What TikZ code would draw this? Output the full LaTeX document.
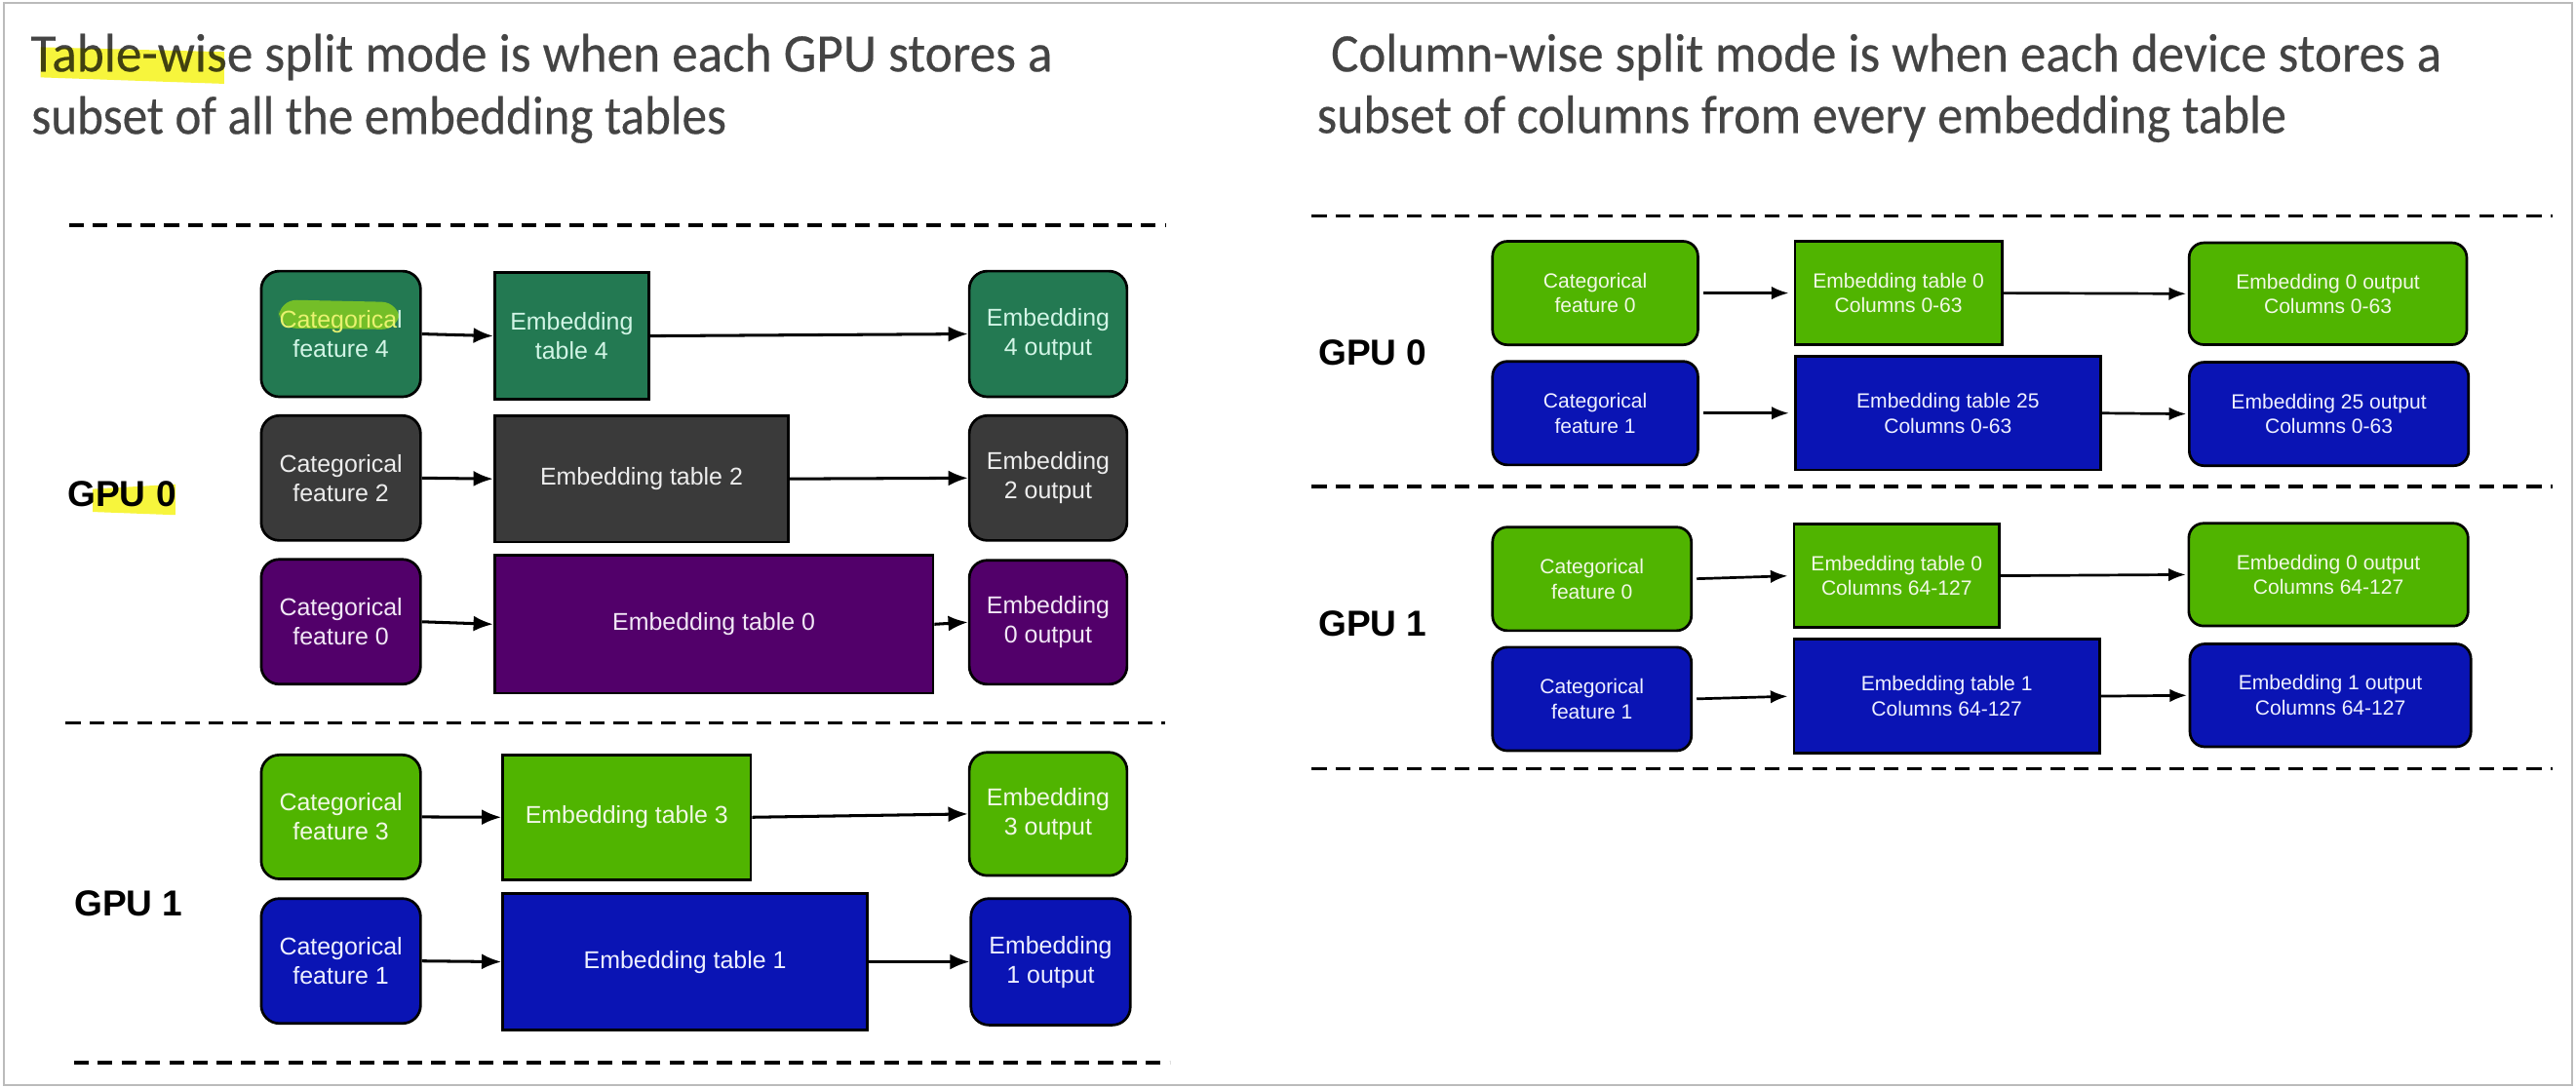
\documentclass[tikz,border=0pt]{standalone}
\usepackage{fontspec}
\setmainfont{Liberation Sans}
\newfontfamily\titlefont[FakeBold=0.35]{Carlito}
\usetikzlibrary{arrows.meta}
\definecolor{dkgreen}{HTML}{237952}
\definecolor{mint}{HTML}{D2F5E6}
\definecolor{dkgray}{HTML}{3A3A3A}
\definecolor{ltgray}{HTML}{EDEDED}
\definecolor{purp}{HTML}{52006A}
\definecolor{purptext}{HTML}{F2E8F6}
\definecolor{brgreen}{HTML}{50B400}
\definecolor{greentext}{HTML}{F2F8E6}
\definecolor{blu}{HTML}{0A14B4}
\definecolor{blutext}{HTML}{EEF0FF}
\definecolor{titlegray}{HTML}{444444}
\definecolor{hly}{HTML}{F7F53C}
\definecolor{hlgreen}{HTML}{74BE28}
\definecolor{hltext}{HTML}{E8F270}
\definecolor{framec}{HTML}{BBBBBB}
\tikzset{
  sz/.style 2 args={minimum width=#1pt, minimum height=#2pt},
  box/.style={draw=black, line width=1.6pt, inner sep=0pt, align=center,
    font=\fontsize{14.8}{17.8}\selectfont},
  tbox/.style={box},
  rbox/.style={box, rounded corners=11pt},
  rsmall/.style={font=\fontsize{12.5}{15.2}\selectfont},
  rtbox/.style={box, rsmall},
  rrbox/.style={box, rsmall, rounded corners=9pt},
  cgreen/.style={fill=dkgreen, text=mint},
  cgray/.style={fill=dkgray, text=ltgray},
  cpurp/.style={fill=purp, text=purptext},
  cbright/.style={fill=brgreen, text=greentext},
  cblue/.style={fill=blu, text=blutext},
  arr/.style={-{Latex[length=12pt,width=9.5pt]}, line width=1.8pt, black},
  rarr/.style={-{Latex[length=10.5pt,width=8pt]}, line width=1.6pt, black},
  sep/.style={line width=2.2pt, black, dash pattern=on 9pt off 5.5pt},
  titletext/.style={inner sep=0pt, anchor=base west, text=titlegray,
    font=\titlefont\fontsize{33}{38}\selectfont},
  gpu/.style={inner sep=0pt, anchor=base west, text=black,
    font=\bfseries\fontsize{22}{26}\selectfont}
}
\begin{document}
\begin{tikzpicture}[x=1pt,y=-1pt]
\useasboundingbox (0,0) rectangle (1568,662.3);
\fill[white] (0,0) rectangle (1568,662.3);
\draw[framec, line width=1.2pt] (2.5,1.7) rectangle (1565.5,660.8);

% ---------- titles ----------
\node[titletext] (tl1) at (18.5,43.5) {\resizebox{622pt}{\height}{Table-wise split mode is when each GPU stores a}};
\node[titletext] (tl2) at (19,81.5) {\resizebox{423pt}{\height}{subset of all the embedding tables}};
\node[titletext] (tr1) at (810,43.5) {\resizebox{676pt}{\height}{Column-wise split mode is when each device stores a}};
\node[titletext] (tr2) at (801.5,81) {\resizebox{590pt}{\height}{subset of columns from every embedding table}};

% ---------- separators ----------
\draw[sep] (42,137) -- (710,137);
\draw[sep] (40,440) -- (709,440);
\draw[sep] (45,646.7) -- (712,646.7);
\draw[sep] (798.5,131.5) -- (1554,131.5);
\draw[sep] (798.5,296) -- (1554,296);
\draw[sep] (798.5,468) -- (1554,468);

% ---------- GPU labels ----------
\node[gpu] (lg0) at (41,308.6) {GPU 0};
\node[gpu] (lg1) at (45,557.3) {GPU 1};
\node[gpu] (rg0) at (802.4,222) {GPU 0};
\node[gpu] (rg1) at (802.4,387) {GPU 1};

% ---------- left panel ----------
\node[rbox, cgreen, sz={97}{76.5},
  path picture={\fill[hlgreen]
    ([shift={(-37.8pt,20.9pt)}]path picture bounding box.center) --
    ([shift={(35.8pt,19.3pt)}]path picture bounding box.center) --
    ([shift={(35.8pt,2.7pt)}]path picture bounding box.center) --
    ([shift={(-37.8pt,3.5pt)}]path picture bounding box.center) -- cycle;}]
  (c4) at (207.5,203.3) {{\color{hltext}Categorica}l\\feature 4};
\node[tbox, cgreen, sz={94}{77}] (t4) at (348,204.5) {Embedding\\table 4};
\node[rbox, cgreen, sz={96}{76.5}] (o4) at (638,203.3) {Embedding\\4 output};

\node[rbox, cgray, sz={97}{76}] (c2) at (207.5,291) {Categorical\\feature 2};
\node[tbox, cgray, sz={179}{77}] (t2) at (390.5,291.5) {Embedding table 2};
\node[rbox, cgray, sz={96}{76}] (o2) at (638,291) {Embedding\\2 output};

\node[rbox, cpurp, sz={97}{76}] (c0) at (207.5,378.5) {Categorical\\feature 0};
\node[tbox, cpurp, sz={267}{84}] (t0) at (434.5,380) {Embedding table 0};
\node[rbox, cpurp, sz={96}{75.5}] (o0) at (638,378.8) {Embedding\\0 output};

\node[rbox, cbright, sz={97}{75.5}] (c3) at (207.5,497.3) {Categorical\\feature 3};
\node[tbox, cbright, sz={151}{76}] (t3) at (381.5,497.5) {Embedding table 3};
\node[rbox, cbright, sz={96}{75}] (o3) at (638,495.5) {Embedding\\3 output};

\node[rbox, cblue, sz={97}{76}] (c1) at (207.5,585) {Categorical\\feature 1};
\node[tbox, cblue, sz={222}{83}] (t1) at (417,585.5) {Embedding table 1};
\node[rbox, cblue, sz={97}{77}] (o1) at (639.5,585.5) {Embedding\\1 output};

\foreach \a/\b in {c4/t4,t4/o4,c2/t2,t2/o2,c0/t0,t0/o0,c3/t3,t3/o3,c1/t1,t1/o1}
  \draw[arr] (\a.east) -- (\b.west);

% ---------- right panel ----------
\node[rrbox, cbright, sz={125}{63}] (rac) at (971,178.4) {Categorical\\feature 0};
\node[rtbox, cbright, sz={126}{63}] (rat) at (1155.6,178.4) {Embedding table 0\\Columns 0-63};
\node[rrbox, cbright, sz={169}{62}] (rao) at (1417,178.8) {Embedding 0 output\\Columns 0-63};

\node[rrbox, cblue, sz={125}{63}] (rbc) at (971,251.5) {Categorical\\feature 1};
\node[rtbox, cblue, sz={186}{69}] (rbt) at (1185.7,251.5) {Embedding table 25\\Columns 0-63};
\node[rrbox, cblue, sz={170}{63}] (rbo) at (1417.6,252) {Embedding 25 output\\Columns 0-63};

\node[rrbox, cbright, sz={121}{63}] (rcc) at (969,352.4) {Categorical\\feature 0};
\node[rtbox, cbright, sz={125}{63}] (rct) at (1154.5,350.5) {Embedding table 0\\Columns 64-127};
\node[rrbox, cbright, sz={170}{62.5}] (rco) at (1417.3,349.8) {Embedding 0 output\\Columns 64-127};

\node[rrbox, cblue, sz={121}{63}] (rdc) at (969,425.5) {Categorical\\feature 1};
\node[rtbox, cblue, sz={186}{69.5}] (rdt) at (1185,423.8) {Embedding table 1\\Columns 64-127};
\node[rrbox, cblue, sz={171}{62.6}] (rdo) at (1418.5,423.3) {Embedding 1 output\\Columns 64-127};

\foreach \a/\b in {rac/rat,rbc/rbt,rcc/rct,rdc/rdt}
  \draw[rarr, shorten <=2.5pt, shorten >=3pt] (\a.east) -- (\b.west);
\foreach \a/\b in {rat/rao,rbt/rbo,rct/rco,rdt/rdo}
  \draw[rarr, shorten >=1pt] (\a.east) -- (\b.west);

% ---------- highlighter strokes ----------
\begin{scope}[blend mode=multiply]
  \fill[hly] (24.7,28.7) -- (136.5,31.6) -- (136.5,51) -- (24.7,47.1) -- cycle;
  \fill[hly] (56.4,297.7) -- (106.8,294.8) -- (106.8,313.5) -- (56.4,311.6) -- cycle;
\end{scope}
\end{tikzpicture}
\end{document}
